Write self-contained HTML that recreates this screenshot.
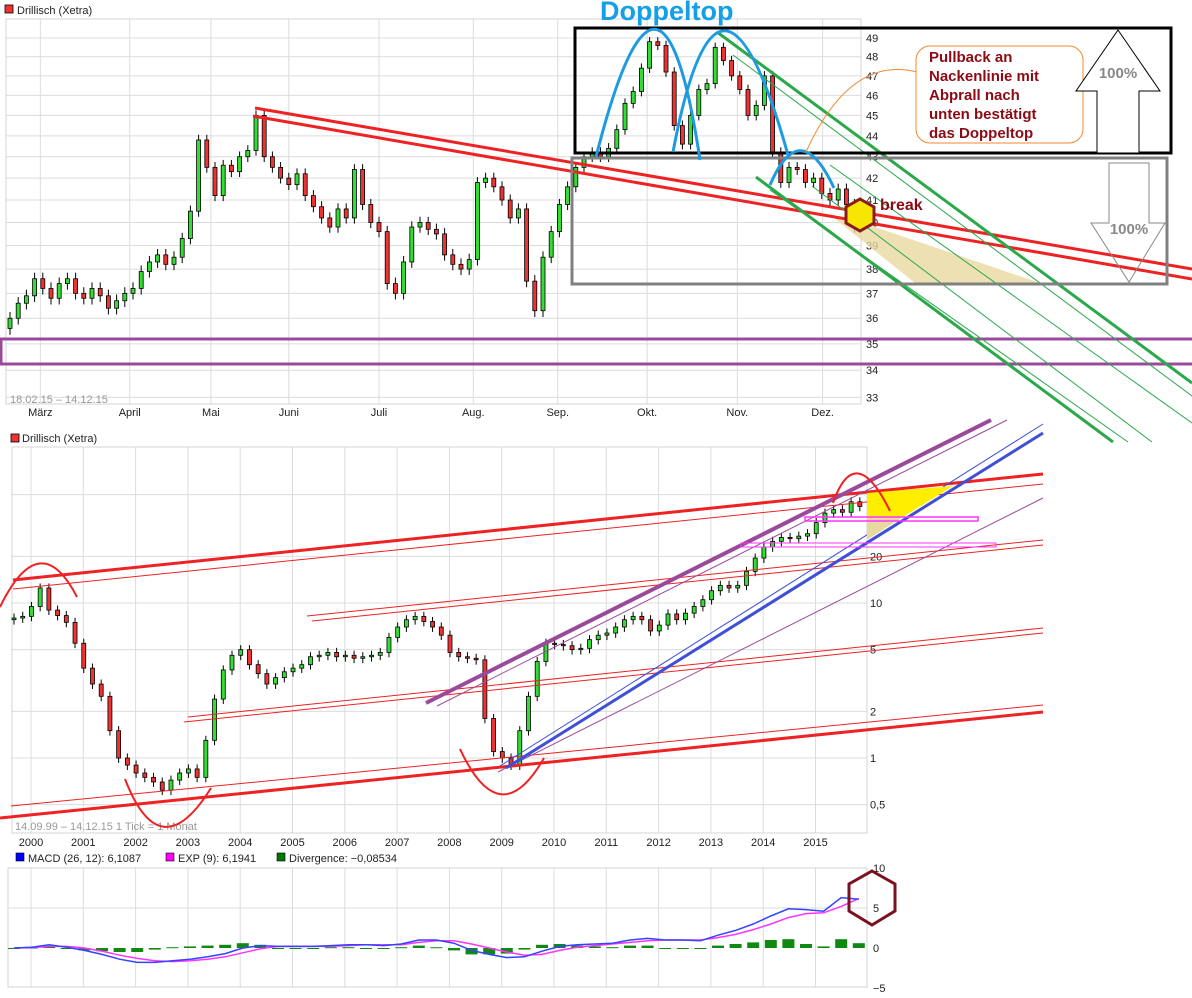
<!DOCTYPE html>
<html><head><meta charset="utf-8"><title>Drillisch (Xetra) Doppeltop</title>
<style>
html,body{margin:0;padding:0;background:#fff;}
svg{display:block;font-family:"Liberation Sans",sans-serif;}
.tick{font-size:11px;fill:#222;}
.leg{font-size:11px;fill:#222;}
</style></head>
<body>
<svg id="chart" width="1192" height="998" viewBox="0 0 1192 998" xmlns="http://www.w3.org/2000/svg">
<rect x="0" y="0" width="1192" height="998" fill="#fff"/>
<!-- TOP PANEL -->
<g><rect x="5" y="5" width="8" height="8" fill="#e33" stroke="#000" stroke-width="0.8"/><text class="leg" x="17" y="14">Drillisch (Xetra)</text></g>
<g id="top-grid"></g>
<rect x="6" y="19" width="855" height="385" fill="none" stroke="#d4d4d4"/>
<g id="top-candles"></g>
<text x="10" y="403" font-size="11" fill="#999">18.02.15 – 14.12.15</text>

<!-- BOTTOM PANEL -->
<g><rect x="11" y="434" width="8" height="8" fill="#e33" stroke="#000" stroke-width="0.8"/><text class="leg" x="22" y="442">Drillisch (Xetra)</text></g>
<g id="bot-grid"></g>
<rect x="12" y="447" width="855" height="386" fill="none" stroke="#d4d4d4"/>
<g id="bot-candles"></g>
<text x="15" y="830" font-size="11" fill="#999">14.09.99 – 14.12.15   1 Tick = 1 Monat</text>

<!-- MACD PANEL -->
<g>
<rect x="16" y="853" width="8" height="8" fill="#00f" stroke="#000" stroke-width="0.6"/><text class="leg" x="28" y="862">MACD (26, 12): 6,1087</text>
<rect x="166" y="853" width="8" height="8" fill="#f0f" stroke="#000" stroke-width="0.6"/><text class="leg" x="178" y="862">EXP (9): 6,1941</text>
<rect x="277" y="853" width="8" height="8" fill="#070" stroke="#000" stroke-width="0.6"/><text class="leg" x="289" y="862">Divergence: −0,08534</text>
</g>
<g id="macd-grid"></g>
<rect x="8" y="868" width="859" height="119" fill="none" stroke="#d4d4d4"/>
<g id="macd-marks"></g>

<!-- TOP ANNOTATIONS -->
<g>
<polygon points="834,218 875,227 1040,283 915,283" fill="#e8d9a0" opacity="0.8"/>
<rect x="1" y="339" width="1195" height="25" fill="none" stroke="#9b4a9b" stroke-width="3"/>
<line x1="255" y1="108" x2="1192" y2="269" stroke="#ee2222" stroke-width="3"/>
<line x1="253" y1="116" x2="1192" y2="279" stroke="#ee2222" stroke-width="3"/>
<line x1="717" y1="32" x2="1192" y2="383" stroke="#2aa84a" stroke-width="3"/>
<line x1="756" y1="177" x2="1113" y2="442" stroke="#2aa84a" stroke-width="3"/>
<line x1="733" y1="55" x2="1192" y2="396" stroke="#2aa84a" stroke-width="1"/>
<line x1="770" y1="190" x2="1128" y2="442" stroke="#2aa84a" stroke-width="1"/>
<line x1="812" y1="186" x2="1152" y2="442" stroke="#2aa84a" stroke-width="1"/>
<line x1="830" y1="165" x2="1192" y2="423" stroke="#2aa84a" stroke-width="1"/>
<rect x="575" y="28" width="596" height="125" fill="none" stroke="#000" stroke-width="3"/>
<rect x="572" y="158" width="595" height="126" fill="none" stroke="#808080" stroke-width="3"/>
<path d="M596,157 Q661,-100 700,160" fill="none" stroke="#1e9be0" stroke-width="3"/>
<path d="M673,152 Q719,-92 788,155" fill="none" stroke="#1e9be0" stroke-width="3"/>
<path d="M770,185 Q800,115 834,188" fill="none" stroke="#1e9be0" stroke-width="3"/>
<text x="600" y="20" font-size="27" font-weight="bold" fill="#14a0e6">Doppeltop</text>
<path d="M917,72 Q850,55 806,152" fill="none" stroke="#f08a30" stroke-width="1"/>
<rect x="916" y="46" width="167" height="97" rx="14" fill="#fff" stroke="#f08a30" stroke-width="1"/>
<g font-size="15" font-weight="bold" fill="#8b0a14">
<text x="929" y="62">Pullback an</text><text x="929" y="81">Nackenlinie mit</text><text x="929" y="100">Abprall nach</text><text x="929" y="119">unten bestätigt</text><text x="929" y="138">das Doppeltop</text></g>
<polygon points="1118,30 1160,91 1139,91 1139,153 1097,153 1097,91 1076,91" fill="#fff" stroke="#000" stroke-width="1"/>
<text x="1118" y="78" font-size="15" font-weight="bold" fill="#888" text-anchor="middle">100%</text>
<polygon points="1109,163 1149,163 1149,223 1165,223 1129,282 1091,223 1109,223" fill="none" stroke="#888" stroke-width="1"/>
<text x="1129" y="234" font-size="15" font-weight="bold" fill="#888" text-anchor="middle">100%</text>
<polygon points="860,199 874,207 874,223 860,231 846,223 846,207" fill="#f7e600" stroke="#8b1a1a" stroke-width="3"/>
<text x="880" y="210" font-size="16" font-weight="bold" fill="#8b0a14">break</text>
</g>

<!-- BOTTOM ANNOTATIONS -->
<g>
<line x1="13" y1="580" x2="1043" y2="474" stroke="#ee2222" stroke-width="3"/>
<line x1="13" y1="589" x2="1043" y2="484" stroke="#ee2222" stroke-width="1"/>
<line x1="307" y1="616" x2="1043" y2="540" stroke="#ee2222" stroke-width="1"/>
<line x1="312" y1="621" x2="1043" y2="545" stroke="#ee2222" stroke-width="1"/>
<line x1="188" y1="717" x2="1043" y2="628" stroke="#ee2222" stroke-width="1"/>
<line x1="184" y1="722" x2="1043" y2="633" stroke="#ee2222" stroke-width="1"/>
<line x1="0" y1="818" x2="1043" y2="712" stroke="#ee2222" stroke-width="3"/>
<line x1="11" y1="806" x2="1043" y2="705" stroke="#ee2222" stroke-width="1"/>
<line x1="426" y1="703" x2="991" y2="420" stroke="#9b4a9b" stroke-width="4"/>
<line x1="437" y1="706" x2="1007" y2="420" stroke="#9b4a9b" stroke-width="1"/>
<line x1="498" y1="772" x2="1043" y2="498" stroke="#9b4a9b" stroke-width="1"/>
<line x1="506" y1="768" x2="1043" y2="433" stroke="#3f4fd6" stroke-width="3"/>
<line x1="500" y1="766" x2="1043" y2="424" stroke="#3f4fd6" stroke-width="1"/>
<polygon points="867,493 953,486 903,517 867,517" fill="#ffee00"/>
<polygon points="867,517 903,517 867,540" fill="#e8d9a0"/>
<rect x="805" y="517" width="173" height="4" fill="none" stroke="#ff33ff" stroke-width="1.5"/>
<rect x="741" y="543" width="255" height="4" fill="none" stroke="#ff33ff" stroke-width="1"/>
<path d="M0,607 Q40,525 77,597" fill="none" stroke="#ee2222" stroke-width="2"/>
<path d="M125,779 Q160,870 211,788" fill="none" stroke="#ee2222" stroke-width="2"/>
<path d="M460,749 Q500,835 544,758" fill="none" stroke="#ee2222" stroke-width="2"/>
<path d="M833,503 Q855,440 890,511" fill="none" stroke="#ee2222" stroke-width="2"/>
<polygon points="872,871 895,884 895,911 872,925 849,911 849,884" fill="none" stroke="#7a1020" stroke-width="3"/>
</g>

<script>
// ===== TOP CHART DATA (daily-ish closes, Feb–Dec 2015) =====
const topFirstOpen = 35.6;
const topCloses = [36.0,36.6,36.9,37.6,37.2,36.8,37.4,37.6,37.0,36.8,37.2,36.9,36.4,36.7,37.0,37.2,37.9,38.3,38.6,38.2,38.5,39.3,40.5,43.8,42.5,41.2,42.6,42.3,43.0,43.3,45.0,43.0,42.5,42.0,41.7,42.2,41.2,40.7,40.2,39.8,40.6,40.2,42.4,40.8,40.0,39.6,37.4,37.0,38.3,39.8,40.0,39.7,39.5,38.6,38.2,38.0,38.4,41.8,42.0,41.6,41.0,40.2,40.6,37.5,36.3,38.5,39.6,40.8,41.6,42.5,43.0,43.2,43.0,43.4,44.3,45.6,46.2,47.4,48.8,48.6,47.2,44.5,43.6,45.0,46.3,46.6,48.5,47.8,47.0,46.3,45.0,45.5,47.0,43.2,41.8,42.5,42.4,41.8,42.0,41.3,41.0,41.5,40.8,39.8];
const topPriceTicks = [33,34,35,36,37,38,39,40,41,42,43,44,45,46,47,48,49];
const topMonthLabels = ["März","April","Mai","Juni","Juli","Aug.","Sep.","Okt.","Nov.","Dez."];
const topMonthIndex = [3.7,14.6,24.5,34.0,45.0,56.5,66.8,77.7,88.7,99.1];

// ===== BOTTOM CHART DATA (bi-monthly closes, 1999–2015) =====
const botFirstOpen = 7.8;
const botCloses = [8,8.2,9.5,12.5,9,8.3,7.5,5.5,3.8,3.0,2.5,1.5,1.0,0.9,0.8,0.75,0.7,0.62,0.72,0.8,0.85,0.75,1.3,2.4,3.7,4.6,5.0,4.0,3.5,3.0,3.3,3.6,3.8,4.0,4.5,4.6,4.8,4.5,4.6,4.4,4.5,4.6,4.8,6.0,7.0,7.8,8.2,7.6,7.0,6.2,4.8,4.5,4.4,4.3,1.8,1.1,1.0,0.9,1.5,2.5,4.2,5.5,5.4,5.3,5.0,5.1,5.8,6.2,6.4,7.0,7.8,8.2,7.8,6.6,7.2,8.5,7.8,8.6,9.5,10.5,12.0,13.0,12.5,13.0,16.0,19.5,23.0,25.0,26.5,26.0,27.0,28.0,33.0,38.0,40.0,38.5,45.0,42.0];
const botPriceTicks = [50,20,10,5,2,1,0.5];
const botTickLabels = ["50","20","10","5","2","1","0,5"];
const yearLabels = ["2000","2001","2002","2003","2004","2005","2006","2007","2008","2009","2010","2011","2012","2013","2014","2015"];

// ===== MACD DATA (4-monthly samples) =====
const macdValues = [0,0.1,0.4,0.1,-0.3,-0.8,-1.4,-1.8,-1.8,-1.6,-1.4,-1.1,-0.7,0.0,0.3,0.2,0.2,0.2,0.3,0.4,0.4,0.3,0.5,1.0,1.0,0.6,-0.3,-0.8,-1.2,-1.1,-0.4,0.2,0.4,0.5,0.6,1.0,1.2,1.0,1.0,0.9,1.6,2.2,3.0,4.0,4.9,4.8,4.6,6.3,6.1];
const signalValues = [0,0.05,0.2,0.2,0,-0.4,-0.9,-1.3,-1.6,-1.7,-1.6,-1.4,-1.1,-0.6,-0.1,0.2,0.2,0.2,0.2,0.3,0.4,0.4,0.4,0.7,0.9,0.9,0.5,0,-0.5,-0.9,-0.8,-0.3,0.1,0.3,0.5,0.7,0.9,1.0,1.0,1.0,1.3,1.7,2.3,3.0,3.8,4.3,4.4,5.2,6.2];
const divergenceValues = [0,0.05,0.2,-0.1,-0.3,-0.4,-0.5,-0.5,-0.2,0.1,0.2,0.3,0.4,0.6,0.4,0,0,0,0.1,0.1,0,-0.1,0.1,0.3,0.1,-0.3,-0.8,-0.8,-0.7,-0.2,0.4,0.5,0.3,0.2,0.1,0.3,0.3,0,0,-0.1,0.3,0.5,0.7,1.0,1.1,0.5,0.2,1.1,0.6];
const macdTicks = [10,5,0,-5];
const macdTickLabels = ["10","5","0","−5"];

const NS = "http://www.w3.org/2000/svg";
function mk(tag, attrs, parent){const e=document.createElementNS(NS,tag);for(const k in attrs)e.setAttribute(k,attrs[k]);parent.appendChild(e);return e;}

// axis functions
function xTop(i){return 10+i*8.2;}
function yTop(p){return 38+909*(Math.log(49)-Math.log(p));}
function xBot(i){return 14+i*8.72;}
function yBot(p){return 758-155*Math.log10(p);}
function xYear(k){return 31+k*52.3;}
function xM(t){return 14+t*17.6;}
function yM(v){return 948-8*v;}

function drawCandle(g,x,o,c,h,l,yf,w,name){
  const up=c>=o;
  const wick=mk("line",{x1:x,x2:x,y1:yf(h),y2:yf(l),stroke:"#000","stroke-width":1},g);
  
  
  const y1=yf(Math.max(o,c)), y2=yf(Math.min(o,c));
  const b=mk("rect",{x:x-w/2,y:y1,width:w,height:Math.max(1,y2-y1),fill:up?"#33dd33":"#ee3333",stroke:"#000","stroke-width":0.8},g);
  
  
}

// ---- top grid
const tg=document.getElementById("top-grid");
topPriceTicks.forEach(function(p){
  const y=yTop(p);
  const ln=mk("line",{x1:6,x2:861,y1:y,y2:y,stroke:"#dcdcdc","stroke-width":1},tg);
  
  
  const t=mk("text",{x:866,y:y+4,class:"tick"},tg);
  
  
  t.textContent=String(p);
});
topMonthLabels.forEach(function(m,k){
  const x=xTop(topMonthIndex[k]);
  const ln=mk("line",{x1:x,x2:x,y1:19,y2:404,stroke:"#dcdcdc","stroke-width":1},tg);
  
  
  const t=mk("text",{x:x,y:416,class:"tick","text-anchor":"middle"},tg);
  
  
  t.textContent=m;
});
// ---- top candles
const tc=document.getElementById("top-candles");
topCloses.forEach(function(c,i){
  const o=i===0?topFirstOpen:topCloses[i-1];
  drawCandle(tc,xTop(i),o,c,Math.max(o,c)+0.25,Math.min(o,c)-0.25,yTop,4,'top-candle');
});

// ---- bottom grid
const bg=document.getElementById("bot-grid");
botPriceTicks.forEach(function(p,k){
  const y=yBot(p);
  const ln=mk("line",{x1:12,x2:867,y1:y,y2:y,stroke:"#dcdcdc","stroke-width":1},bg);
  
  
  const t=mk("text",{x:870,y:y+4,class:"tick"},bg);
  
  
  t.textContent=botTickLabels[k];
});
yearLabels.forEach(function(yr,k){
  const x=xYear(k);
  const ln=mk("line",{x1:x,x2:x,y1:447,y2:833,stroke:"#dcdcdc","stroke-width":1},bg);
  
  
  const ln2=mk("line",{x1:x,x2:x,y1:868,y2:987,stroke:"#dcdcdc","stroke-width":1},bg);
  
  
  const t=mk("text",{x:x,y:846,class:"tick","text-anchor":"middle"},bg);
  
  
  t.textContent=yr;
});
// ---- bottom candles
const bc=document.getElementById("bot-candles");
botCloses.forEach(function(c,i){
  const o=i===0?botFirstOpen:botCloses[i-1];
  drawCandle(bc,xBot(i),o,c,Math.max(o,c)*1.07,Math.min(o,c)*0.93,yBot,4,'monthly-candle');
});

// ---- MACD
const mg=document.getElementById("macd-grid");
macdTicks.forEach(function(v,k){
  const y=yM(v);
  if(v===5){
    const ln=mk("line",{x1:8,x2:867,y1:y,y2:y,stroke:"#dcdcdc","stroke-width":1},mg);
    
    
  }
  const t=mk("text",{x:873,y:y+4,class:"tick"},mg);
  
  
  t.textContent=macdTickLabels[k];
});
const mm=document.getElementById("macd-marks");
divergenceValues.forEach(function(v,t){
  const y0=yM(0), y1=yM(v);
  const r=mk("rect",{x:xM(t)-6,y:Math.min(y0,y1),width:12,height:Math.max(1,Math.abs(y1-y0)),fill:"#118811"},mm);
  
  
});
const sigPts=signalValues.map(function(v,t){return xM(t)+","+yM(v);}).join(" ");
const sig=mk("polyline",{points:sigPts,fill:"none",stroke:"#ff33ff","stroke-width":1.5},mm);


const macdPts=macdValues.map(function(v,t){return xM(t)+","+yM(v);}).join(" ");
const mac=mk("polyline",{points:macdPts,fill:"none",stroke:"#3344ff","stroke-width":1.5},mm);


</script>
</svg>
</body></html>
